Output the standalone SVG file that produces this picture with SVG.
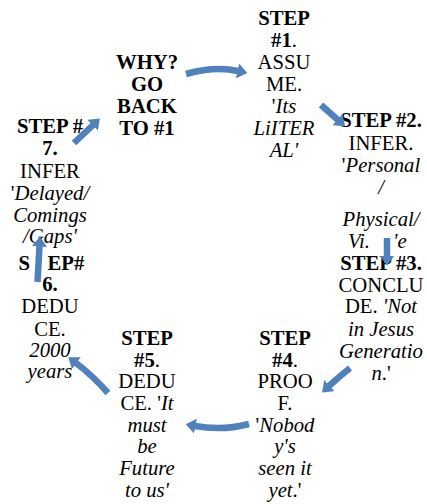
<svg xmlns="http://www.w3.org/2000/svg" width="427" height="504" viewBox="0 0 427 504">
<defs>
<style>
text{font-family:"Liberation Serif","Times New Roman",serif;font-size:20.7px;fill:#000;text-anchor:middle}
.b{font-weight:bold}
.i{font-style:italic}
.l{text-anchor:start}
.arr{fill:none;stroke:#4f81bd;stroke-width:6.5;marker-end:url(#head)}
</style>
<marker id="head" markerUnits="userSpaceOnUse" markerWidth="12" markerHeight="16" refX="0.5" refY="7.5" orient="auto">
<path d="M0,0 L10,7.5 L0,15 z" fill="#4f81bd"/>
</marker>
</defs>
<rect width="427" height="504" fill="#fff"/>

<g id="why">
<text class="b" x="147" y="69">WHY?</text>
<text class="b" x="147" y="91">GO</text>
<text class="b" x="147" y="113">BACK</text>
<text class="b" x="147" y="135">TO #1</text>
</g>

<g id="step1">
<text class="b" x="284" y="25">STEP</text>
<text x="284" y="47"><tspan class="b">#1</tspan>.</text>
<text x="284" y="69">ASSU</text>
<text x="284" y="91">ME.</text>
<text x="284" y="113">'<tspan class="i">Its</tspan></text>
<text class="i" x="284" y="135">LiITER</text>
<text class="i" x="284" y="157">AL'</text>
</g>

<g id="step2">
<text class="b" x="381" y="127">STEP #2.</text>
<text x="381" y="150">INFER.</text>
<text x="381" y="172">'<tspan class="i">Personal</tspan></text>
<text class="i" x="381" y="194">/</text>
<text class="i" x="381" y="226">Physical/</text>
<text class="i l" x="348" y="248">Vi.</text>
<text class="i l" x="393" y="248">'e</text>
</g>

<g id="step3">
<text class="b" x="381" y="270">STEP #3.</text>
<text x="381" y="292">CONCLU</text>
<text x="381" y="313">DE. <tspan class="i">'Not</tspan></text>
<text class="i" x="381" y="336">in Jesus</text>
<text class="i" x="381" y="358">Generatio</text>
<text x="381" y="380"><tspan class="i">n</tspan>.'</text>
</g>

<g id="step4">
<text class="b" x="285" y="345">STEP</text>
<text x="285" y="367"><tspan class="b">#4</tspan>.</text>
<text x="285" y="388">PROO</text>
<text x="285" y="410">F.</text>
<text x="285" y="432">'<tspan class="i">Nobod</tspan></text>
<text class="i" x="285" y="453">y's</text>
<text class="i" x="285" y="475">seen it</text>
<text x="285" y="497"><tspan class="i">yet</tspan>.'</text>
</g>

<g id="step5">
<text class="b" x="147" y="345">STEP</text>
<text x="147" y="367"><tspan class="b">#5</tspan>.</text>
<text x="147" y="388">DEDU</text>
<text x="147" y="410">CE. '<tspan class="i">It</tspan></text>
<text class="i" x="147" y="432">must</text>
<text class="i" x="147" y="453">be</text>
<text class="i" x="147" y="475">Future</text>
<text class="i" x="147" y="497">to us'</text>
</g>

<g id="step6">
<text class="b l" x="18.5" y="270">S</text>
<text class="b l" x="47.5" y="270">EP#</text>
<text class="b" x="50" y="291">6.</text>
<text x="50" y="313">DEDU</text>
<text x="50" y="336">CE.</text>
<text class="i" x="50" y="357">2000</text>
<text class="i" x="50" y="378">years</text>
</g>

<g id="step7">
<text class="b" x="50" y="133">STEP #</text>
<text class="b" x="50" y="155">7.</text>
<text x="50" y="178">INFER</text>
<text x="50" y="200">'<tspan class="i">Delayed/</tspan></text>
<text class="i" x="50" y="222">Comings</text>
<text class="i" x="50" y="243">/Gaps'</text>
</g>

<g id="connectors">
<path class="arr" d="M186,74 Q215,66 238,71"/>
<path class="arr" d="M321,105 L338,120"/>
<path class="arr" d="M387,238 L387,256"/>
<path class="arr" d="M350,368 Q340,376 329,386"/>
<path class="arr" d="M249,424 Q222,431 195,426"/>
<path class="arr" d="M108,393 Q92,375 76,363"/>
<path class="arr" d="M37.5,282 L39.5,246"/>
<path class="arr" d="M74,143 L93,125"/>
</g>
</svg>
